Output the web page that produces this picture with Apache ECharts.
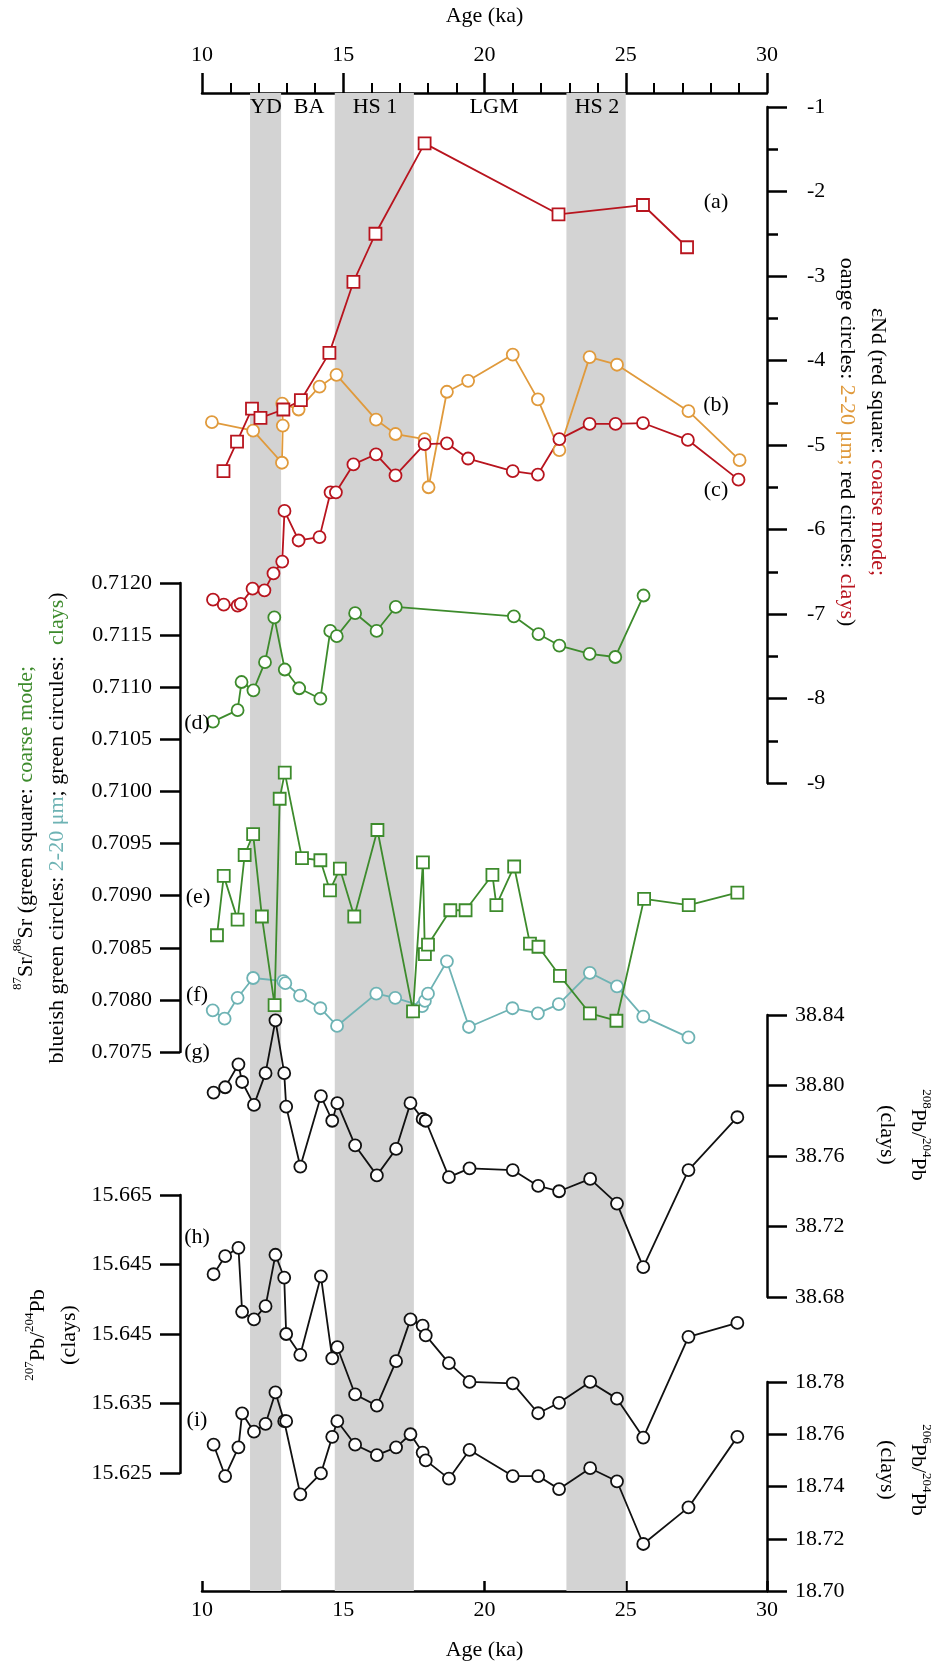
<!DOCTYPE html>
<html><head><meta charset="utf-8">
<script src="https://cdn.jsdelivr.net/npm/echarts@6/dist/echarts.min.js"></script>
<style>html,body{margin:0;padding:0;background:#fff}#c{width:936px;height:1666px}</style>
</head><body><div id="c"></div>
<script>
// ---- data ----
const bands = [[11.7,12.8],[14.7,17.5],[22.9,25.0]];
const bandLabels = ['YD','BA','HS 1','LGM','HS 2'];
const ageTicks = [10,15,20,25,30];
const ndCoarseAge = [10.76,11.24,11.77,12.07,12.88,13.50,14.51,15.36,16.14,17.88,22.62,25.61,27.17];
const ndCoarse = [-5.31,-4.96,-4.57,-4.68,-4.58,-4.47,-3.91,-3.07,-2.5,-1.43,-2.27,-2.16,-2.66];
const ndFineAge = [10.35,11.81,12.83,12.86,12.84,13.42,14.16,14.76,16.16,16.85,17.88,18.02,18.67,19.42,21.0,21.89,22.65,23.72,24.69,27.22,29.03];
const ndFine = [-4.73,-4.83,-5.21,-4.77,-4.51,-4.58,-4.31,-4.17,-4.70,-4.87,-4.93,-5.50,-4.37,-4.24,-3.93,-4.46,-5.06,-3.96,-4.05,-4.60,-5.18];
const ndClayAge = [10.39,10.77,11.26,11.37,11.79,12.21,12.53,12.84,12.92,13.42,14.16,14.55,14.74,15.36,16.16,16.85,17.88,18.67,19.42,21.0,21.89,22.65,23.72,24.64,25.61,27.2,28.99];
const ndClay = [-6.83,-6.89,-6.9,-6.88,-6.70,-6.72,-6.52,-6.38,-5.78,-6.13,-6.09,-5.56,-5.56,-5.23,-5.11,-5.36,-4.99,-4.98,-5.16,-5.31,-5.35,-4.93,-4.75,-4.75,-4.74,-4.94,-5.41];
const srClayAge = [10.39,11.26,11.40,11.82,12.23,12.56,12.93,13.44,14.19,14.54,14.77,15.42,16.18,16.86,21.04,21.91,22.65,23.72,24.63,25.63];
const srClay = [0.71067,0.71078,0.71105,0.71097,0.71124,0.71167,0.71117,0.71099,0.71089,0.71154,0.71149,0.71171,0.71154,0.71177,0.71168,0.71151,0.71140,0.71132,0.71129,0.71188];
const srCoarseAge = [10.53,10.77,11.26,11.51,11.81,12.12,12.57,12.75,12.93,13.54,14.19,14.53,14.88,15.39,16.21,17.47,17.82,17.89,18.0,18.79,19.33,20.28,20.42,21.05,21.61,21.91,22.67,23.73,24.67,25.65,27.23,28.95];
const srCoarse = [0.70862,0.70919,0.70877,0.70939,0.70959,0.70880,0.70795,0.70993,0.71018,0.70936,0.70934,0.70905,0.70926,0.70880,0.70963,0.70789,0.70932,0.70844,0.70853,0.70886,0.70886,0.70920,0.70891,0.70928,0.70854,0.70851,0.70823,0.70787,0.70780,0.70897,0.70891,0.70903];
const srFineAge = [10.38,10.80,11.26,11.81,12.88,12.95,13.47,14.19,14.78,16.17,16.84,17.79,17.89,18.0,18.67,19.45,20.99,21.89,22.63,23.73,24.69,25.62,27.22];
const srFine = [0.70790,0.70782,0.70802,0.70821,0.70818,0.70816,0.70804,0.70792,0.70775,0.70806,0.70802,0.70794,0.70799,0.70806,0.70837,0.70774,0.70792,0.70787,0.70796,0.70826,0.70813,0.70784,0.70764];
const pbAge = [10.41,10.82,11.29,11.42,11.84,12.25,12.60,12.91,12.98,13.48,14.21,14.61,14.79,15.42,16.19,16.87,17.38,17.81,17.92,18.74,19.47,21.0,21.9,22.64,23.74,24.69,25.62,27.22,28.95];
const pb208 = [38.796,38.799,38.812,38.802,38.789,38.807,38.837,38.807,38.788,38.754,38.794,38.780,38.790,38.766,38.749,38.764,38.790,38.781,38.780,38.748,38.753,38.752,38.743,38.740,38.747,38.733,38.697,38.752,38.782];
const pb207 = [15.6536,15.6562,15.6574,15.6482,15.6471,15.6490,15.6564,15.6531,15.6450,15.6420,15.6533,15.6415,15.6431,15.6363,15.6347,15.6411,15.6471,15.6462,15.6448,15.6408,15.6381,15.6379,15.6336,15.6351,15.6381,15.6357,15.6301,15.6446,15.6466];
const pb206 = [18.756,18.744,18.755,18.768,18.761,18.764,18.776,18.765,18.765,18.737,18.745,18.759,18.765,18.756,18.752,18.755,18.760,18.753,18.750,18.743,18.754,18.744,18.744,18.739,18.747,18.742,18.718,18.732,18.759];
const pb207TickLabels = ['15.625','15.635','15.645','15.645','15.665'];

// ---- style ----
const F = 'Liberation Serif';
const RED='#b8141e', ORG='#e09a3c', GRN='#3d8b2c', BLU='#6eb3b4', BLK='#111';
const zip=(a,b)=>a.map((x,i)=>[x,b[i]]);
const grids=[
 {left:202,right:169,top:86,bottom:75},
 {left:202,right:169,top:107,height:676},
 {left:202,right:169,top:583,height:469},
 {left:202,right:169,top:1015,height:282},
 {left:202,right:169,top:1195,height:278},
 {left:202,right:169,top:1382,height:209}
];
const axLine={show:true,onZero:false,lineStyle:{color:'#000',width:2.5}};
const xAxes=[
 {gridIndex:0,type:'value',position:'top',min:10,max:30,interval:5,axisLine:axLine,
  axisTick:{inside:false,length:20,lineStyle:{width:2.5,color:'#000'}},minorTick:{show:true,splitNumber:5,length:10,lineStyle:{width:2,color:'#000'}},
  splitLine:{show:false},minorSplitLine:{show:false},axisLabel:{fontFamily:F,fontSize:22,color:'#000',margin:27},
  name:'Age (ka)',nameLocation:'middle',nameGap:66,nameTextStyle:{fontFamily:F,fontSize:22,color:'#000'}},
 {gridIndex:0,type:'value',position:'bottom',min:10,max:30,interval:5,axisLine:axLine,
  axisTick:{inside:true,length:10,lineStyle:{width:2.5,color:'#000'}},
  splitLine:{show:false},axisLabel:{fontFamily:F,fontSize:22,color:'#000',margin:8},
  name:'Age (ka)',nameLocation:'middle',nameGap:48,nameTextStyle:{fontFamily:F,fontSize:22,color:'#000'}}
];
for(let i=1;i<=5;i++) xAxes.push({gridIndex:i,type:'value',min:10,max:30,show:false});
function yAx(g,pos,min,max,interval,fmt,extra){
 return Object.assign({gridIndex:g,type:'value',position:pos,min,max,interval,axisLine:axLine,
  axisTick:{length:20,lineStyle:{width:2.5,color:'#000'}},splitLine:{show:false},
  axisLabel:{fontFamily:F,fontSize:22,color:'#000',margin:28,formatter:fmt}},extra||{});
}
const yAxes=[
 {gridIndex:0,type:'value',show:false,min:0,max:1},
 yAx(1,'right',-9,-1,1,v=>String(Math.round(v)),{minorTick:{show:true,splitNumber:2,length:11,lineStyle:{width:2.5,color:'#000'}},axisLabel:{fontFamily:F,fontSize:22,color:'#000',margin:40,formatter:v=>String(Math.round(v))}}),
 yAx(2,'left',0.7075,0.7120,0.0005,v=>v.toFixed(4),{offset:22}),
 yAx(3,'right',38.68,38.84,0.04,v=>v.toFixed(2)),
 yAx(4,'left',15.625,15.665,0.01,v=>pb207TickLabels[Math.round((v-15.625)/0.01)],{offset:22}),
 yAx(5,'right',18.70,18.78,0.02,v=>v.toFixed(2))
];
function ser(g,ages,vals,color,sym){
 return {type:'line',xAxisIndex:g+1,yAxisIndex:g,data:zip(ages,vals),symbol:sym==='sq'?'rect':'circle',
  symbolSize:12,lineStyle:{color,width:1.8},itemStyle:{color:'#fff',borderColor:color,borderWidth:1.8},
  z:sym==='sq'?4:3,animation:false};
}
const series=[
 {type:'line',xAxisIndex:0,yAxisIndex:0,data:[],z:0,markArea:{silent:true,itemStyle:{color:'#d3d3d3'},
   data:bands.map(b=>[{xAxis:b[0]},{xAxis:b[1]}])},animation:false},
 ser(1,ndFineAge,ndFine,ORG,'c'),
 ser(1,ndClayAge,ndClay,RED,'c'),
 ser(1,ndCoarseAge,ndCoarse,RED,'sq'),
 ser(2,srFineAge,srFine,BLU,'c'),
 ser(2,srClayAge,srClay,GRN,'c'),
 ser(2,srCoarseAge,srCoarse,GRN,'sq'),
 ser(3,pbAge,pb208,BLK,'c'),
 ser(4,pbAge,pb207,BLK,'c'),
 ser(5,pbAge,pb206,BLK,'c')
];
const T=(x,y,text)=>({type:'text',x,y,z:100,style:{text,font:'22px '+F,fill:'#000',align:'center',verticalAlign:'middle'}});
const bandPos=[266,309,375,494,597];
const graphic=[];
bandLabels.forEach((t,i)=>graphic.push(T(bandPos[i],107,t)));
[['(a)',716,202],['(b)',716,405],['(c)',716,490],['(d)',197,723],['(e)',198,897],['(f)',197,995],['(g)',197,1052],['(h)',197,1237],['(i)',197,1420]]
 .forEach(a=>graphic.push(T(a[1],a[2],a[0])));
function rt(x,y,rot,text){
 return {type:'text',x,y,rotation:rot,z:100,style:{text,font:'22px '+F,fill:'#000',align:'center',verticalAlign:'middle',lineHeight:31,
  rich:{r:{fill:RED,font:'22px '+F},o:{fill:ORG,font:'22px '+F},g:{fill:GRN,font:'22px '+F},b:{fill:BLU,font:'22px '+F},
   s:{font:'13px '+F,fill:'#000',verticalAlign:'top'},n:{font:'22px '+F,fill:'#000'}}}};
}
graphic.push(rt(862,442,-Math.PI/2,'{n|εNd (red square: }{r|coarse mode;}\n{n|oange circles: }{o|2-20 μm;}{n| red circles: }{r|clays}{n|)}'));
graphic.push(rt(42,828,Math.PI/2,'{s|87}{n|Sr/}{s|86}{n|Sr (green square: }{g|coarse mode;}\n{n|blueish green circles: }{b|2-20 μm}{n|; green circules:  }{g|clays}{n|)}'));
graphic.push(rt(902,1135,-Math.PI/2,'{s|208}{n|Pb/}{s|204}{n|Pb}\n{n|(clays)}'));
graphic.push(rt(54,1335,Math.PI/2,'{s|207}{n|Pb/}{s|204}{n|Pb}\n{n|(clays)}'));
graphic.push(rt(902,1470,-Math.PI/2,'{s|206}{n|Pb/}{s|204}{n|Pb}\n{n|(clays)}'));
const chart=echarts.init(document.getElementById('c'),null,{renderer:'canvas'});
chart.setOption({animation:false,grid:grids,xAxis:xAxes,yAxis:yAxes,series,graphic});
</script></body></html>
